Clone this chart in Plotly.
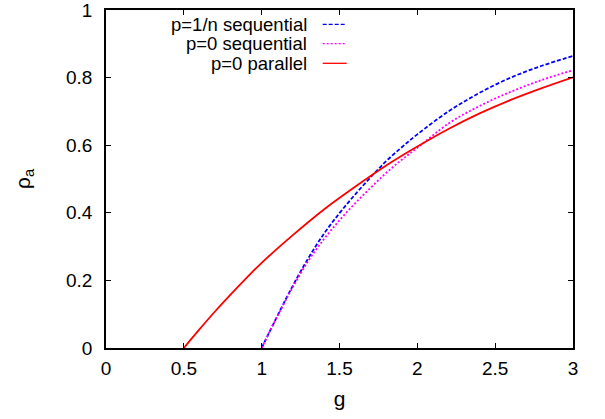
import plotly.graph_objects as go

# ---- data ----
g_parallel = [0.5, 0.6, 0.7, 0.8, 0.9, 1.0, 1.2, 1.4, 1.6, 1.8, 2.0, 2.2, 2.4, 2.6, 2.8, 3.0]
rho_parallel = [0.0, 0.055, 0.108, 0.158, 0.206, 0.252, 0.334, 0.410, 0.477, 0.540,
                0.596, 0.648, 0.694, 0.734, 0.769, 0.801]

g_seq = [1.0, 1.1, 1.2, 1.3, 1.4, 1.5, 1.6, 1.7, 1.8, 1.9, 2.0, 2.2, 2.4, 2.6, 2.8, 3.0]
rho_seq_1n = [0.0, 0.094, 0.184, 0.266, 0.338, 0.399, 0.454, 0.505, 0.553, 0.594,
              0.632, 0.700, 0.755, 0.800, 0.835, 0.864]
rho_seq_0 = [0.0, 0.093, 0.180, 0.258, 0.322, 0.378, 0.428, 0.474, 0.518, 0.557,
             0.592, 0.664, 0.716, 0.758, 0.793, 0.822]

series_names = ["p=1/n sequential", "p=0 sequential", "p=0 parallel"]
x_ticks = [0, 0.5, 1, 1.5, 2, 2.5, 3]
x_tick_labels = ["0", "0.5", "1", "1.5", "2", "2.5", "3"]
y_ticks = [0, 0.2, 0.4, 0.6, 0.8, 1]
y_tick_labels = ["0", "0.2", "0.4", "0.6", "0.8", "1"]

colors = ["#0000ff", "#ff00ff", "#ff0000"]
dashes = ["4px,2px", "2px,2px", "solid"]

FONT = "Liberation Sans, Arial, sans-serif"
FS = 19

fig = go.Figure()
fig.add_trace(go.Scatter(x=g_seq, y=rho_seq_1n, mode="lines", name=series_names[0],
                         line=dict(color=colors[0], width=1.8, dash=dashes[0], shape="spline")))
fig.add_trace(go.Scatter(x=g_seq, y=rho_seq_0, mode="lines", name=series_names[1],
                         line=dict(color=colors[1], width=1.8, dash=dashes[1], shape="spline")))
fig.add_trace(go.Scatter(x=g_parallel, y=rho_parallel, mode="lines", name=series_names[2],
                         line=dict(color=colors[2], width=1.8, dash=dashes[2], shape="spline")))

# gnuplot-style legend: right-aligned text with sample line to its right
L, R, T, B = 106, 32, 10, 71
W, H = 605, 419
pw, ph = W - L - R, H - T - B
def px_x(p):
    return (p - L) / pw
def px_y(p):
    return (T + ph - p) / ph

row_y = [24.3, 43.7, 63.3]
for name, c, d, yy in zip(series_names, colors, dashes, row_y):
    fig.add_annotation(x=px_x(309), y=px_y(yy), xref="paper", yref="paper",
                       text=name, showarrow=False, xanchor="right", yanchor="middle",
                       font=dict(family=FONT, size=18.5, color="black"))
    fig.add_shape(type="line", xref="paper", yref="paper",
                  x0=px_x(322.7), x1=px_x(346.7), y0=px_y(yy), y1=px_y(yy),
                  line=dict(color=c, width=1.3, dash=d))

axis_common = dict(showline=True, linecolor="black", linewidth=1.5, mirror="ticks",
                   ticks="inside", ticklen=5, tickcolor="black", tickwidth=1,
                   showgrid=False, zeroline=False, automargin=False,
                   ticklabeloverflow="allow",
                   tickfont=dict(family=FONT, size=FS, color="black"))

fig.update_layout(
    width=W, height=H,
    margin=dict(l=L, r=R, t=T, b=B, autoexpand=False),
    paper_bgcolor="white", plot_bgcolor="white",
    showlegend=False,
    font=dict(family=FONT, size=FS, color="black"),
    xaxis=dict(range=[0, 3], tickvals=x_ticks, ticktext=x_tick_labels,
               title=dict(text="g", standoff=14, font=dict(family=FONT, size=FS + 2)),
               ticklabelstandoff=2, **axis_common),
    yaxis=dict(range=[0, 1], tickvals=y_ticks, ticktext=y_tick_labels,
               title=dict(text="ρ<sub>a</sub>", standoff=30, font=dict(family=FONT, size=FS + 2)),
               ticklabelstandoff=8, **axis_common),
)

fig.write_html("out.html", config={"displayModeBar": False},
               post_script="document.body.style.margin='0';")
